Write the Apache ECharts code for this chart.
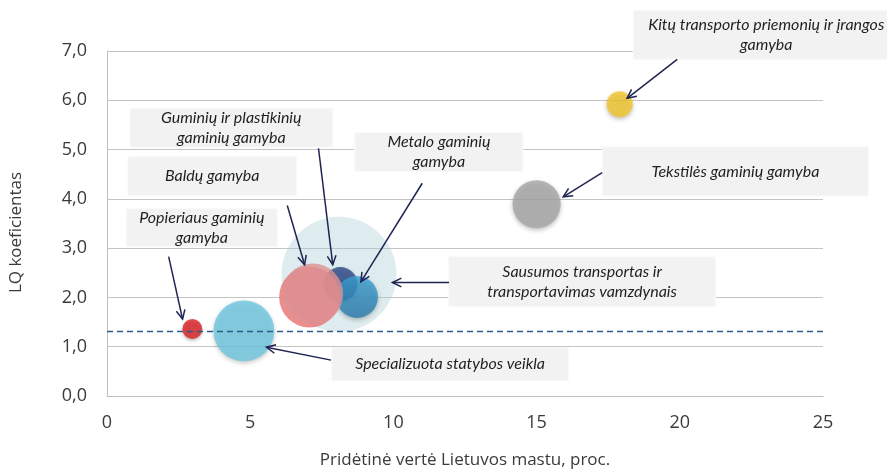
<!DOCTYPE html>
<html><head><meta charset="utf-8">
<script src="https://cdn.jsdelivr.net/npm/echarts@6/dist/echarts.min.js"></script>
<style>html,body{margin:0;padding:0;background:#fff}#c{width:887px;height:474px}</style>
</head><body><div id="c"></div>
<script>
// ---- data ----
const industries = [
  'Sausumos transportas ir transportavimas vamzdynais',
  'Guminių ir plastikinių gaminių gamyba',
  'Metalo gaminių gamyba',
  'Baldų gamyba',
  'Specializuota statybos veikla',
  'Popieriaus gaminių gamyba',
  'Tekstilės gaminių gamyba',
  'Kitų transporto priemonių ir įrangos gamyba'
];
const valueAdded = [8.1, 8.15, 8.73, 7.18, 4.78, 2.98, 15.0, 17.9];
const lqCoef     = [2.47, 2.27, 2.01, 2.07, 1.32, 1.36, 3.89, 5.92];
const bubbleSize = [3300, 290, 440, 930, 930, 100, 580, 170];
const lqThreshold = 1.32;
const xTicks = [0, 5, 10, 15, 20, 25];
const yTicks = [0, 1, 2, 3, 4, 5, 6, 7];

// ---- styles ----
const bubbleStyles = [
  {color: 'rgba(164,199,211,0.45)'},
  {color: '#2e4a8a', shadowColor: 'rgba(0,0,0,0.3)', shadowBlur: 4, shadowOffsetY: 2},
  {color: new echarts.graphic.LinearGradient(0, 0, 0, 1, [{offset: 0, color: '#3ba2d4'}, {offset: 1, color: '#2a7cae'}]), shadowColor: 'rgba(0,0,0,0.3)', shadowBlur: 4, shadowOffsetY: 2},
  {color: '#dd9294', shadowColor: '#ea6f6f', shadowBlur: 0, shadowOffsetX: -3, shadowOffsetY: 3},
  {color: '#6fc7e1', shadowColor: 'rgba(0,0,0,0.25)', shadowBlur: 4, shadowOffsetY: 2},
  {color: '#dc1f22', shadowColor: 'rgba(0,0,0,0.3)', shadowBlur: 3, shadowOffsetY: 2},
  {color: '#a6a6a6', shadowColor: 'rgba(0,0,0,0.3)', shadowBlur: 4, shadowOffsetY: 2},
  {color: '#f2c72a', shadowColor: 'rgba(0,0,0,0.3)', shadowBlur: 4, shadowOffsetY: 2}
];

// callout annotations: box centre & arrow ends in axis units, box size in px
const callouts = [
  {text: 'Kitų transporto priemonių ir įrangos\ngamyba', c: [23.02, 7.33], w: 266, h: 49, from: [19.91, 6.83], to: [18.16, 6.04]},
  {text: 'Tekstilės gaminių gamyba', c: [21.94, 4.557], w: 266, h: 49, from: [17.29, 4.533], to: [15.93, 4.041]},
  {text: 'Guminių ir plastikinių\ngaminių gamyba', c: [4.34, 5.443], w: 203, h: 39, from: [7.385, 5.026], to: [7.882, 2.663]},
  {text: 'Baldų gamyba', c: [3.674, 4.459], w: 169, h: 39, from: [6.295, 3.864], to: [6.899, 2.663]},
  {text: 'Metalo gaminių\ngamyba', c: [11.59, 4.951], w: 168, h: 39, from: [11.007, 4.317], to: [8.865, 2.317]},
  {text: 'Popieriaus gaminių\ngamyba', c: [3.31, 3.415], w: 151, h: 38, from: [2.153, 2.829], to: [2.639, 1.561]},
  {text: 'Sausumos transportas ir\ntransportavimas vamzdynais', c: [16.59, 2.319], w: 267, h: 50, from: [11.944, 2.303], to: [9.965, 2.303]},
  {text: 'Specializuota statybos veikla', c: [11.98, 0.646], w: 237, h: 33, from: [7.823, 0.728], to: [5.566, 0.99]}
];

const chart = echarts.init(document.getElementById('c'));
const fmt = v => v.toFixed(1).replace('.', ',');
const axisFont = {fontFamily: 'Open Sans', fontSize: 18, color: '#3a3a3a'};
const option = {
  animation: false,
  grid: {left: 103, right: 64, top: 51, bottom: 67},
  xAxis: {
    type: 'value', min: xTicks[0], max: xTicks[xTicks.length - 1], interval: xTicks[1] - xTicks[0],
    name: 'Pridėtinė vertė Lietuvos mastu, proc.', nameLocation: 'middle', nameGap: 56,
    nameTextStyle: Object.assign({}, axisFont, {fontSize: 17}),
    axisLine: {lineStyle: {color: '#bfbfbf'}}, axisTick: {show: false},
    axisLabel: Object.assign({margin: 18}, axisFont),
    splitLine: {show: false}
  },
  yAxis: {
    type: 'value', min: yTicks[0], max: yTicks[yTicks.length - 1], interval: yTicks[1] - yTicks[0],
    name: 'LQ koeficientas', nameLocation: 'middle', nameGap: 82,
    nameTextStyle: Object.assign({}, axisFont, {fontSize: 17, padding: [0, 18, 0, 0]}),
    axisLine: {show: true, lineStyle: {color: '#bfbfbf'}}, axisTick: {show: false},
    axisLabel: Object.assign({margin: 20, formatter: fmt}, axisFont),
    splitLine: {lineStyle: {color: '#c4c4c4'}}
  },
  series: [{
    type: 'scatter',
    data: industries.map((n, i) => ({name: n, value: [valueAdded[i], lqCoef[i], bubbleSize[i]], itemStyle: bubbleStyles[i]})),
    symbolSize: v => 2 * Math.sqrt(v[2]),
    emphasis: {disabled: true},
    markLine: {
      silent: true, symbol: 'none', label: {show: false},
      lineStyle: {color: '#2a5e88', type: [6, 4], width: 1.4},
      data: [{yAxis: lqThreshold}]
    }
  }]
};
chart.setOption(option);

function px(p) { return chart.convertToPixel({gridIndex: 0}, p); }
const g = [];
callouts.forEach(c => {
  const ctr = px(c.c);
  g.push({type: 'rect', z: 50, shape: {x: ctr[0] - c.w / 2, y: ctr[1] - c.h / 2, width: c.w, height: c.h},
    style: {fill: '#f2f2f2', stroke: '#fafafa', lineWidth: 1}});
  g.push({type: 'text', z: 51, style: {text: c.text, x: ctr[0], y: ctr[1], align: 'center', verticalAlign: 'middle',
    fontFamily: 'Lato', fontStyle: 'italic', fontSize: 16, lineHeight: 20, fill: '#1f1f1f'}});
  const a = px(c.from), b = px(c.to);
  g.push({type: 'line', z: 52, shape: {x1: a[0], y1: a[1], x2: b[0], y2: b[1]}, style: {stroke: '#1f2552', lineWidth: 1.5}});
  const ang = Math.atan2(a[1] - b[1], a[0] - b[0]), L = 10, s = 0.45;
  g.push({type: 'polyline', z: 52, shape: {points: [
    [b[0] + L * Math.cos(ang + s), b[1] + L * Math.sin(ang + s)], [b[0], b[1]],
    [b[0] + L * Math.cos(ang - s), b[1] + L * Math.sin(ang - s)]]},
    style: {stroke: '#1f2552', lineWidth: 1.5, fill: null}});
});
chart.setOption({graphic: g});
</script></body></html>
